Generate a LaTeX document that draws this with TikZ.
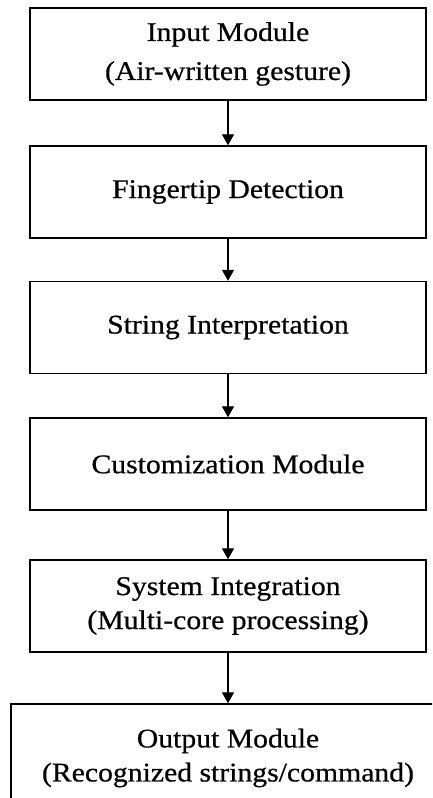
\documentclass[tikz,border=0pt]{standalone}
\usepackage{fontspec}
\setmainfont{Liberation Serif}[FakeStretch=1.1,FakeBold=0.6]
\usetikzlibrary{arrows.meta}
\begin{document}
\begin{tikzpicture}[x=1pt,y=-1pt,
  box/.style={draw, line width=1.4pt, minimum width=396pt, minimum height=92pt, inner sep=0pt, align=center, font=\fontsize{27}{39}\selectfont},
  conn/.style={line width=1.2pt, -{Triangle[length=11pt,width=12pt]}}]
\clip (0,0) rectangle (432,798);
\node[box] (b1) at (228,54) {Input Module\\(Air-written gesture)};
\node[box] (b2) at (228,192) {Fingertip Detection};
\node[box] (b3) at (228,327.5) {String Interpretation};
\node[box] (b4) at (228,464) {Customization Module};
\node[box, font=\fontsize{27}{34}\selectfont] (b5) at (228,606) {System Integration\\(Multi-core processing)};
\node[box, minimum width=434pt, minimum height=108pt, font=\fontsize{27}{34}\selectfont] (b6) at (228,758) {Output Module\\(Recognized strings/command)};
\draw[conn] (b1) -- (b2);
\draw[conn] (b2) -- (b3);
\draw[conn] (b3) -- (b4);
\draw[conn] (b4) -- (b5);
\draw[conn] (b5) -- (b6);
\end{tikzpicture}
\end{document}
